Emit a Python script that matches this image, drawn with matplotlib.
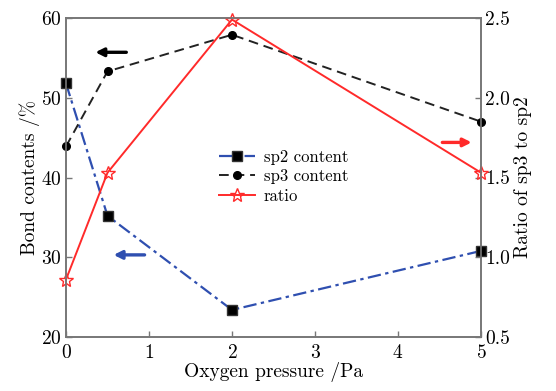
import matplotlib
matplotlib.use("Agg")
import matplotlib.pyplot as plt
import numpy as np

plt.rcParams['font.family'] = ['cmr10', 'DejaVu Serif']
plt.rcParams['axes.formatter.use_mathtext'] = True
plt.rcParams['mathtext.fontset'] = 'cm'

# data
pressure = [0, 0.5, 2, 5]
sp2 = [51.8, 35.2, 23.4, 30.8]
sp3 = [43.9, 53.3, 57.9, 47.0]
ratio = [0.86, 1.53, 2.49, 1.53]

fig = plt.figure(figsize=(5.56, 3.91), dpi=100)
ax = fig.add_axes([0.1187, 0.138, 0.7465, 0.816])
ax2 = ax.twinx()

l1, = ax.plot(pressure, sp2, color='#2f4fb0', ls=(0, (6, 2, 1.5, 2)), lw=1.6,
              marker='s', ms=7, mfc='black', mec='#333333', clip_on=False, zorder=4)
l2, = ax.plot(pressure, sp3, color='#222222', ls=(0, (5, 3)), lw=1.4,
              marker='o', ms=5.5, mfc='black', mec='black', clip_on=False, zorder=4)
l3, = ax2.plot(pressure, ratio, color='#ff2a2a', lw=1.4,
               marker='*', ms=10, mfc='none', mec='#ff2a2a', clip_on=False)

ax.set_xlim(0, 5)
ax.set_ylim(20, 60)
ax2.set_ylim(0.5, 2.5)
ax.set_xticks([0, 1, 2, 3, 4, 5])
ax.set_yticks([20, 30, 40, 50, 60])
ax2.set_yticks([0.5, 1.0, 1.5, 2.0, 2.5])
ax2.set_yticklabels(['0.5', '1.0', '1.5', '2.0', '2.5'])

for a in (ax, ax2):
    for s in a.spines.values():
        s.set_color('#777777')
        s.set_linewidth(1.2)
    a.tick_params(direction='in', length=4, width=1, color='#777777',
                  labelsize=14, pad=3)
ax.tick_params(axis='x', pad=5)

ax.set_xlabel('Oxygen pressure /Pa', fontsize=14, labelpad=0)
ax.set_ylabel('Bond contents /%', fontsize=14, labelpad=1)
ax2.set_ylabel('Ratio of sp3 to sp2', fontsize=14, labelpad=3)

# direction arrows
ax.annotate('', xy=(0.32, 55.7), xytext=(0.76, 55.7),
            arrowprops=dict(arrowstyle='-|>', color='black', lw=2.4, mutation_scale=12))
ax.annotate('', xy=(0.54, 30.3), xytext=(0.98, 30.3),
            arrowprops=dict(arrowstyle='-|>', color='#2f4fb0', lw=2.4, mutation_scale=12))
ax.annotate('', xy=(4.92, 44.4), xytext=(4.5, 44.4),
            arrowprops=dict(arrowstyle='-|>', color='#ff2a2a', lw=2.4, mutation_scale=12))

ax2.legend([l1, l2, l3], ['sp2 content', 'sp3 content', 'ratio'],
           loc='upper left', bbox_to_anchor=(0.34, 0.625), frameon=False,
           fontsize=12, handlelength=2.2, labelspacing=0.25, borderpad=0.2,
           handletextpad=0.5)

fig.savefig('out.png', dpi=100)
